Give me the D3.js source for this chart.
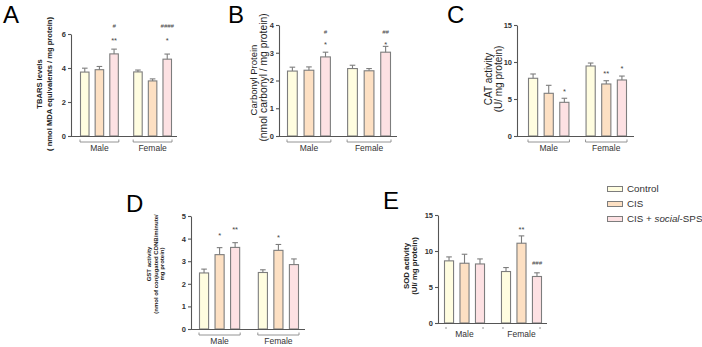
<!DOCTYPE html>
<html><head><meta charset="utf-8">
<script src="https://cdn.jsdelivr.net/npm/d3@7"></script>
<style>body{margin:0;background:#fff}svg{display:block}</style>
</head><body>
<svg id="c" width="702" height="347"></svg>
<script>
// ---------- data ----------
const groups = ["Male", "Female"];
const seriesNames = ["Control", "CIS", "CIS + social-SPS"];

const tbarsMean = [3.76, 3.90, 4.83, 3.77, 3.24, 4.52];
const tbarsErr  = [0.23, 0.19, 0.28, 0.11, 0.12, 0.30];
const carbMean  = [2.34, 2.37, 2.85, 2.43, 2.35, 3.02];
const carbErr   = [0.14, 0.12, 0.17, 0.12, 0.08, 0.21];
const catMean   = [7.80, 5.77, 4.55, 9.46, 7.03, 7.57];
const catErr    = [0.58, 1.08, 0.55, 0.40, 0.44, 0.53];
const gstMean   = [2.48, 3.29, 3.61, 2.50, 3.48, 2.85];
const gstErr    = [0.17, 0.31, 0.21, 0.12, 0.26, 0.25];
const sodMean   = [8.63, 8.30, 8.20, 7.15, 11.08, 6.46];
const sodErr    = [0.55, 1.25, 0.70, 0.55, 1.02, 0.51];

const ticksA = [0, 2, 4, 6];
const ticksB = [0, 1, 2, 3, 4];
const ticksC = [0, 5, 10, 15];
const ticksD = [0, 1, 2, 3, 4, 5];
const ticksE = [0, 5, 10, 15];

// annotations: [bar index, text, level in data units]
const annotA = [[2, "**", 5.7], [2, "#", 6.5], [5, "*", 5.7], [5, "####", 6.5]];
const annotB = [[2, "*", 3.35], [2, "#", 3.75], [5, "*", 3.35], [5, "##", 3.75]];
const annotC = [[2, "*", 6.2], [4, "**", 8.65], [5, "*", 9.3]];
const annotD = [[1, "*", 4.22], [2, "**", 4.48], [4, "*", 4.13]];
const annotE = [[4, "**", 13.2], [5, "###", 8.35]];

// ---------- style ----------
const fills = ["#fffde0", "#fde0c3", "#fde1e3"];
const stroke = "#7d7d7d";
const axisCol = "#555";
const svg = d3.select("#c");

function panel(cfg) {
  const g = svg.append("g");
  const y = d3.scaleLinear().domain([0, cfg.max]).range([cfg.y0, cfg.yTop]);
  const xg = d3.scaleBand().domain(groups).range(cfg.bars).paddingInner(cfg.gpad);
  const xs = d3.scaleBand().domain(seriesNames).range([0, xg.bandwidth()]).paddingInner(0.35);
  const rows = [];
  groups.forEach((gr, gi) => seriesNames.forEach((s, si) => {
    const i = gi * 3 + si;
    rows.push({gr, s, si, i, v: cfg.mean[i], e: cfg.err[i]});
  }));
  const bx = d => xg(d.gr) + xs(d.s);
  const bw = xs.bandwidth();

  // bars
  g.selectAll("rect.bar").data(rows).join("rect")
    .attr("x", d => bx(d) + 0.5).attr("y", d => y(d.v))
    .attr("width", bw - 1).attr("height", d => cfg.y0 - y(d.v))
    .attr("fill", d => fills[d.si]).attr("stroke", stroke).attr("stroke-width", 1.1);
  // error bars
  g.selectAll("line.eb").data(rows).join("line")
    .attr("x1", d => bx(d) + bw / 2).attr("x2", d => bx(d) + bw / 2)
    .attr("y1", d => y(d.v)).attr("y2", d => y(d.v + d.e))
    .attr("stroke", stroke).attr("stroke-width", 1.1);
  g.selectAll("line.cap").data(rows).join("line")
    .attr("x1", d => bx(d) + bw / 2 - 2.8).attr("x2", d => bx(d) + bw / 2 + 2.8)
    .attr("y1", d => y(d.v + d.e)).attr("y2", d => y(d.v + d.e))
    .attr("stroke", stroke).attr("stroke-width", 1.1);

  // y axis
  const ax = g.append("g").attr("transform", `translate(${cfg.ax0},0)`)
    .call(d3.axisLeft(y).tickValues(cfg.ticks).tickFormat(d3.format("d"))
      .tickSize(3).tickPadding(2).tickSizeOuter(0));
  ax.select(".domain").attr("stroke", axisCol).attr("stroke-width", 1.1);
  ax.selectAll(".tick line").attr("stroke", axisCol).attr("stroke-width", 1.1);
  ax.selectAll(".tick text").attr("font-family", "Liberation Sans, Arial, sans-serif")
    .attr("font-size", 7.5).attr("font-weight", "bold").attr("fill", "#333");
  // x axis line
  g.append("line").attr("x1", cfg.ax0).attr("x2", cfg.ax1).attr("y1", cfg.y0 + 0.5).attr("y2", cfg.y0 + 0.5)
    .attr("stroke", axisCol).attr("stroke-width", 1.1);

  // group brackets + labels
  groups.forEach(gr => {
    const x1 = xg(gr), x2 = xg(gr) + xg.bandwidth();
    const by = cfg.y0 + 6;
    if (cfg.bracket) {
      g.append("path").attr("d", `M${x1},${by - 2.5}V${by}H${x2}V${by - 2.5}`)
        .attr("fill", "none").attr("stroke", "#888").attr("stroke-width", 0.9);
    } else {
      [x1 + 2, x2 - 2].forEach(xx => g.append("line").attr("x1", xx).attr("x2", xx)
        .attr("y1", by - 2).attr("y2", by).attr("stroke", "#888").attr("stroke-width", 0.9));
    }
    g.append("text").attr("x", (x1 + x2) / 2).attr("y", cfg.y0 + cfg.glab)
      .attr("text-anchor", "middle").attr("font-family", "Liberation Sans, Arial, sans-serif")
      .attr("font-size", 8.5).attr("fill", "#333").text(gr);
  });

  // annotations
  cfg.annot.forEach(([i, t, lev]) => {
    const d = rows[i];
    const star = t.includes("*");
    g.append("text").attr("x", bx(d) + bw / 2).attr("y", y(lev) + (star ? 4.3 : 2.2))
      .attr("text-anchor", "middle").attr("font-family", "Liberation Sans, Arial, sans-serif")
      .attr("font-size", star ? 7.5 : 6).attr("font-style", star ? "normal" : "italic")
      .attr("fill", "#444").text(t);
  });

  // y title
  cfg.title.forEach((line, k) => {
    g.append("text").attr("transform", `translate(${cfg.tx[k]},${cfg.ty[k]}) rotate(-90)`)
      .attr("text-anchor", "middle").attr("dominant-baseline", "central")
      .attr("font-family", "Liberation Sans, Arial, sans-serif")
      .attr("font-size", cfg.tfs[k]).attr("font-weight", cfg.tbold ? "bold" : "normal")
      .attr("fill", "#222").text(line);
  });

  // panel letter
  svg.append("text").attr("x", cfg.lx).attr("y", cfg.ly)
    .attr("font-family", "Liberation Sans, Arial, sans-serif").attr("font-size", 24).attr("fill", "#000")
    .text(cfg.letter);
}

panel({letter: "A", lx: 3, ly: 22.5, mean: tbarsMean, err: tbarsErr, max: 6, ticks: ticksA,
  ax0: 71, ax1: 177, y0: 136, yTop: 34, bars: [80, 172], gpad: 0.27, bracket: true, glab: 14.5,
  annot: annotA, title: ["TBARS levels", "( nmol MDA equivalents / mg protein)"],
  tx: [39.5, 49.5], ty: [84, 84], tfs: [7.6, 7.6], tbold: true});
panel({letter: "B", lx: 228, ly: 22.5, mean: carbMean, err: carbErr, max: 4, ticks: ticksB,
  ax0: 279, ax1: 397, y0: 136, yTop: 25, bars: [287, 391], gpad: 0.27, bracket: true, glab: 14.5,
  annot: annotB, title: ["Carbonyl Protein", "(nmol carbonyl / mg protein)"],
  tx: [253.5, 263], ty: [80, 77.5], tfs: [9.5, 10.3], tbold: false});
panel({letter: "C", lx: 447, ly: 22.5, mean: catMean, err: catErr, max: 15, ticks: ticksC,
  ax0: 517, ax1: 634, y0: 136, yTop: 25, bars: [528, 627], gpad: 0.28, bracket: true, glab: 14.5,
  annot: annotC, title: ["CAT activity", "(U/ mg protein)"],
  tx: [488, 498.5], ty: [79, 79], tfs: [10, 10], tbold: false});
panel({letter: "D", lx: 126, ly: 212, mean: gstMean, err: gstErr, max: 5, ticks: ticksD,
  ax0: 191, ax1: 305, y0: 329, yTop: 216, bars: [199, 299], gpad: 0.3, bracket: true, glab: 15,
  annot: annotD, title: ["GST activity", "(nmol of conjugated CDNB/minute/", "mg protein)"],
  tx: [149, 155.5, 162], ty: [264, 264, 264], tfs: [6, 6, 6], tbold: true});
panel({letter: "E", lx: 383, ly: 209, mean: sodMean, err: sodErr, max: 15, ticks: ticksE,
  ax0: 438, ax1: 547, y0: 323, yTop: 215, bars: [444, 542], gpad: 0.28, bracket: false, glab: 14,
  annot: annotE, title: ["SOD activity", "(UI/ mg protein)"],
  tx: [406, 414], ty: [266, 266], tfs: [7.8, 7.8], tbold: true});

// legend
const leg = svg.append("g");
seriesNames.forEach((s, i) => {
  const ly = 189 + i * 15;
  leg.append("rect").attr("x", 607.5).attr("y", ly - 2.5).attr("width", 15).attr("height", 5)
    .attr("fill", fills[i]).attr("stroke", stroke).attr("stroke-width", 1);
  const t = leg.append("text").attr("x", 627).attr("y", ly + 3.3)
    .attr("font-family", "Liberation Sans, Arial, sans-serif").attr("font-size", 9.8).attr("fill", "#333");
  if (s.includes("social")) {
    t.append("tspan").text("CIS + ");
    t.append("tspan").attr("font-style", "italic").text("social");
    t.append("tspan").text("-SPS");
  } else t.text(s);
});
</script>
</body></html>
